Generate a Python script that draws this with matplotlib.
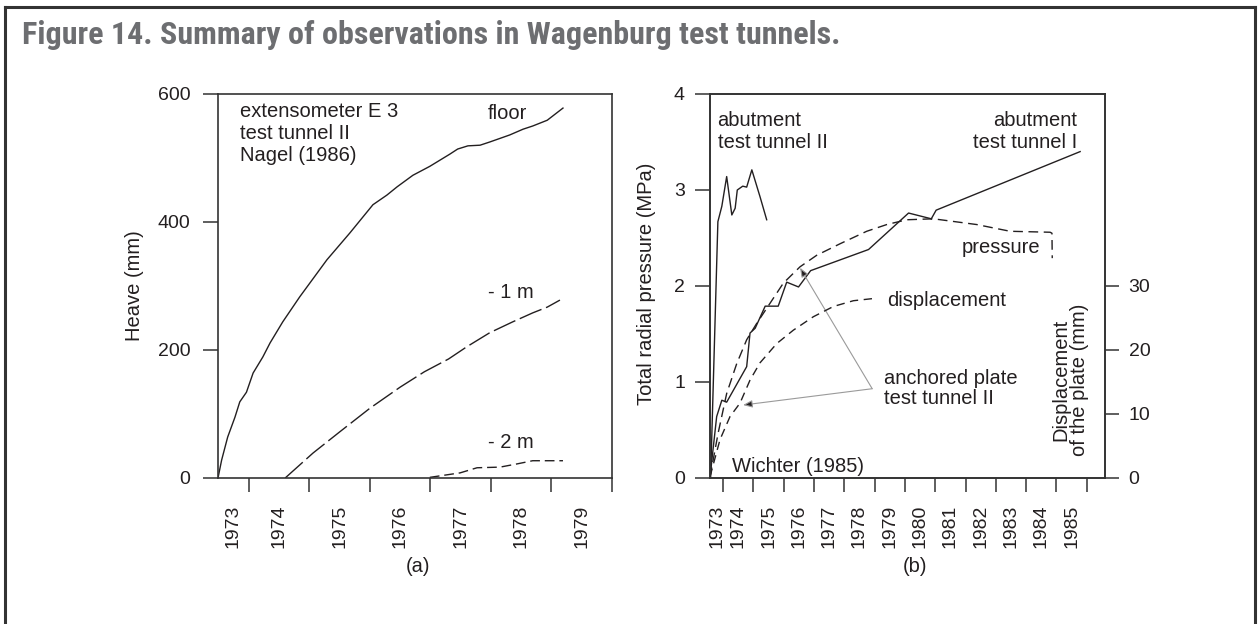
import matplotlib.pyplot as plt
from matplotlib.lines import Line2D

plt.rcParams["font.family"] = ["Liberation Sans", "DejaVu Sans"]
INK = "#231f20"

# (a) heave in test tunnel II, extensometer E 3 (Nagel 1986)
floor_year = [1973.49, 1973.55, 1973.65, 1973.77, 1973.85, 1973.96, 1974.07, 1974.23,
              1974.35, 1974.56, 1974.84, 1975.29, 1975.67, 1976.05, 1976.28, 1976.45,
              1976.71, 1976.99, 1977.32, 1977.45, 1977.62, 1977.82, 1977.98, 1978.31,
              1978.53, 1978.69, 1978.93, 1979.19]
floor_mm = [0, 28, 64, 95, 119, 134, 164, 189, 211, 244, 283, 341, 383, 427, 442, 455,
            473, 487, 506, 514, 519, 520, 525, 536, 545, 550, 559, 578]
m1_year = [1974.60, 1975.06, 1975.50, 1976.00, 1976.50, 1976.90, 1977.30, 1977.60,
           1977.98, 1978.36, 1978.69, 1978.93, 1979.14]
m1_mm = [0, 39, 72, 109, 142, 166, 186, 205, 227, 244, 258, 267, 278]
m2_year = [1976.99, 1977.49, 1977.77, 1978.15, 1978.43, 1978.69, 1979.19]
m2_mm = [1, 8, 16, 17, 22, 27, 27]
years_a = list(range(1973, 1980))

# (b) radial pressure and plate displacement (Wichter 1985)
abut2_year = [1973.59, 1973.83, 1973.96, 1974.12, 1974.29, 1974.40, 1974.47, 1974.65,
              1974.78, 1974.95, 1975.22, 1975.44]
abut2_mpa = [0, 2.67, 2.83, 3.14, 2.74, 2.81, 3.00, 3.04, 3.03, 3.21, 2.93, 2.69]
plate_year = [1973.57, 1973.79, 1973.96, 1974.12, 1974.78, 1974.89, 1975.06, 1975.39,
              1975.82, 1976.10, 1976.49, 1976.89, 1978.80, 1980.12, 1980.87]
plate_mpa = [0.01, 0.64, 0.81, 0.79, 1.16, 1.51, 1.56, 1.79, 1.79, 2.04, 1.99, 2.16,
             2.38, 2.76, 2.70]
abut1_year = [1980.87, 1981.03, 1985.78]
abut1_mpa = [2.70, 2.79, 3.40]
press_year = [1973.57, 1973.84, 1974.12, 1974.45, 1974.78, 1975.11, 1975.55, 1975.99,
              1976.54, 1977.09, 1977.86, 1978.74, 1979.40, 1980.06, 1980.94, 1982.37,
              1983.47, 1984.79, 1984.85, 1984.86]
press_mpa = [0.01, 0.47, 0.88, 1.19, 1.44, 1.61, 1.82, 2.03, 2.20, 2.32, 2.44, 2.57,
             2.64, 2.69, 2.70, 2.64, 2.57, 2.56, 2.55, 2.29]
disp_year = [1973.57, 1973.90, 1974.23, 1974.56, 1974.89, 1975.22, 1975.77, 1976.32,
             1976.98, 1977.64, 1978.30, 1979.07]
disp_mm = [0.2, 6.0, 9.6, 11.7, 15.3, 18.0, 21.0, 23.1, 25.2, 26.8, 27.7, 28.1]
years_b = list(range(1973, 1986))

W, H = 1260, 624
fig = plt.figure(figsize=(W / 100, H / 100), dpi=100)


def px(x0, y0, x1, y1):
    return [x0 / W, 1 - y1 / H, (x1 - x0) / W, (y1 - y0) / H]


def style(ax, x0, x1, years):
    ax.set_xlim(x0, x1)
    for s in ax.spines.values():
        s.set_linewidth(1.2)
        s.set_color("#333333")
    ax.set_xticks(range(years[0] + 1, years[-1] + 2))
    ax.set_xticklabels([])
    ax.set_xticks([(max(y, x0) + y + 1) / 2 for y in years], minor=True)
    ax.set_xticklabels([str(y) for y in years], minor=True, rotation=90, fontsize=14,
                       color=INK)
    ax.tick_params(axis="x", which="major", direction="out", length=10, width=1.1,
                   color="#333333")
    ax.tick_params(axis="x", which="minor", length=0, pad=19)
    ax.tick_params(axis="y", direction="out", length=11, width=1.1, color="#333333",
                   labelsize=14, labelcolor=INK)


FS = 14.5

# ---- panel (a)
ax_a = fig.add_axes(px(218, 94, 612, 478))
style(ax_a, 1973.49, 1980.0, years_a)
ax_a.set_ylim(0, 600)
ax_a.set_yticks([0, 200, 400, 600])
ax_a.tick_params(axis="y", pad=9)
ax_a.plot(floor_year, floor_mm, color=INK, lw=1.0)
ax_a.plot(m1_year, m1_mm, color=INK, lw=1.0, dashes=(17, 3.5))
ax_a.plot(m2_year, m2_mm, color=INK, lw=1.0, dashes=(7, 3.5))
ax_a.text(0.055, 0.98, "extensometer E 3\ntest tunnel II\nNagel (1986)",
          transform=ax_a.transAxes, ha="left", va="top", fontsize=FS, color=INK,
          linespacing=1.2)
ax_a.text(1977.95, 570, "floor", fontsize=FS, color=INK, va="center", ha="left")
ax_a.text(1977.95, 290, "- 1 m", fontsize=FS, color=INK, va="center", ha="left")
ax_a.text(1977.95, 55, "- 2 m", fontsize=FS, color=INK, va="center", ha="left")

# ---- panel (b)
ax_b = fig.add_axes(px(710, 94, 1105, 478))
style(ax_b, 1973.57, 1986.6, years_b)
ax_b.set_ylim(0, 4)
ax_b.set_yticks([0, 1, 2, 3, 4])
ax_b.tick_params(axis="y", pad=7)
ax_b.plot(abut2_year, abut2_mpa, color=INK, lw=1.0)
ax_b.plot(plate_year, plate_mpa, color=INK, lw=1.0)
ax_b.plot(abut1_year, abut1_mpa, color=INK, lw=1.0)
ax_b.plot(press_year, press_mpa, color=INK, lw=1.0, dashes=(7, 4))

ax_d = ax_b.twinx()
ax_d.set_ylim(0, 60)
ax_d.set_yticks([0, 10, 20, 30])
for s in ax_d.spines.values():
    s.set_linewidth(1.2)
    s.set_color("#333333")
ax_d.tick_params(axis="y", direction="out", length=10, width=1.1, color="#333333",
                 labelsize=14, labelcolor=INK, pad=7)
ax_d.plot(disp_year, disp_mm, color=INK, lw=1.0, dashes=(6, 4))

ax_b.text(1973.82, 3.61, "abutment\ntest tunnel II", fontsize=FS, color=INK,
          ha="left", va="center", linespacing=1.2)
ax_b.text(1985.68, 3.61, "abutment\ntest tunnel I", fontsize=FS, color=INK,
          ha="right", va="center", linespacing=1.2)
ax_b.text(1984.45, 2.4, "pressure", fontsize=FS, color=INK, ha="right", va="center")
ax_b.text(1979.4, 1.85, "displacement", fontsize=FS, color=INK, ha="left", va="center")
ax_b.text(1979.3, 0.93, "anchored plate\ntest tunnel II", fontsize=FS, color=INK,
          ha="left", va="center", linespacing=1.1)
ax_b.text(1974.3, 0.115, "Wichter (1985)", fontsize=FS, color=INK, ha="left",
          va="center")
arrow = dict(arrowstyle="-|>,head_length=0.55,head_width=0.22", ec="#9a9a9a",
             fc=INK, lw=0.8, shrinkA=0, shrinkB=0)
ax_b.annotate("", xy=(1974.66, 0.76), xytext=(1978.92, 0.93), arrowprops=arrow)
ax_b.annotate("", xy=(1976.54, 2.19), xytext=(1978.92, 0.93), arrowprops=arrow)

fig.text(135 / W, 1 - 286 / H, "Heave (mm)", rotation=90, ha="center", va="center",
         fontsize=FS, color=INK)
fig.text(646 / W, 1 - 284 / H, "Total radial pressure (MPa)", rotation=90,
         ha="center", va="center", fontsize=FS, color=INK)
fig.text(1070 / W, 1 - 380 / H, "Displacement\nof the plate (mm)", rotation=90,
         ha="center", va="center", fontsize=FS, color=INK, multialignment="center",
         linespacing=1.0)
fig.text(418 / W, 1 - 567 / H, "(a)", ha="center", va="center", fontsize=FS, color=INK)
fig.text(915 / W, 1 - 567 / H, "(b)", ha="center", va="center", fontsize=FS, color=INK)

# outer frame and caption
frame = dict(color="#333333", lw=2.2, transform=fig.transFigure)
fig.add_artist(Line2D([5 / W, 5 / W], [-0.01, 1 - 7 / H], **frame))
fig.add_artist(Line2D([5 / W, 1255 / W], [1 - 7 / H, 1 - 7 / H], **frame))
fig.add_artist(Line2D([1255 / W, 1255 / W], [-0.01, 1 - 7 / H], **frame))
fig.text(22 / W, 1 - 35 / H, "Figure 14. Summary of observations in Wagenburg test tunnels.",
         ha="left", va="center", fontsize=23, fontweight="bold", color="#6d6e71",
         family=["Roboto Condensed", "Roboto", "DejaVu Sans"])

fig.savefig("out.png", dpi=100)
